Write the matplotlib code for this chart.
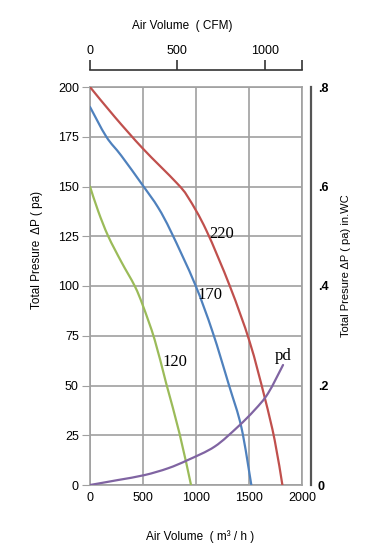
import matplotlib
matplotlib.use('Agg')
import numpy as np
import matplotlib.pyplot as plt
from matplotlib.path import Path
from matplotlib.patches import PathPatch

plt.rcParams['font.family'] = ['Liberation Sans', 'DejaVu Sans']

# Fan curves (air volume m3/h, pressure Pa)
x220 = [0, 233, 500, 814, 925, 1097, 1321, 1506, 1648, 1742, 1815]
y220 = [200, 185, 169, 152, 144.6, 128, 99.7, 72, 44, 22.6, 0]
x170 = [0, 154, 295, 500, 642, 767, 990, 1156, 1312, 1428, 1522]
y170 = [190, 175, 165.5, 150.4, 139.5, 127, 101, 77, 50, 29, 0]
x120 = [0, 78, 172, 297, 422, 500, 610, 719, 844, 953]
y120 = [150, 137.5, 125, 112, 100, 90, 73, 51, 26, 0]
xpd = [0, 264, 516, 736, 925, 1176, 1396, 1553, 1679, 1821]
ypd = [0, 2.5, 5, 8.4, 12.6, 19.3, 29.3, 37.7, 46, 60.3]

curve_labels = ['220', '170', '120', 'pd']
label_pos = [(1245, 126), (1132, 95.5), (802, 62), (1821, 65)]

y_ticks = [0, 25, 50, 75, 100, 125, 150, 175, 200]
x_ticks = [0, 500, 1000, 1500, 2000]
cfm_ticks = [0, 500, 1000]
inwc_ticks = [0, 0.2, 0.4, 0.6, 0.8]
inwc_labels = ['0', '.2', '.4', '.6', '.8']

M3H_PER_CFM = 1.65
PA_PER_INWC = 250.0


def smooth_path(xs, ys):
    # Catmull-Rom through the read points, drawn as cubic Bezier segments
    p = np.column_stack([xs, ys]).astype(float)
    n = len(p)
    verts = [p[0]]
    codes = [Path.MOVETO]
    for i in range(n - 1):
        p0 = p[i - 1] if i > 0 else p[i]
        p3 = p[i + 2] if i + 2 < n else p[i + 1]
        verts += [p[i] + (p[i + 1] - p0) / 6, p[i + 1] - (p3 - p[i]) / 6, p[i + 1]]
        codes += [Path.CURVE4] * 3
    return Path(verts, codes)


fig = plt.figure(figsize=(3.85, 5.56), dpi=100)
ax = fig.add_axes([90 / 385, 71 / 556, 212 / 385, 398 / 556])

colors = ['#c0504d', '#4f81bd', '#9bbb59', '#8064a2']
series = [(x220, y220), (x170, y170), (x120, y120), (xpd, ypd)]
for (xs, ys), c in zip(series, colors):
    ax.add_patch(PathPatch(smooth_path(xs, ys), fill=False, edgecolor=c,
                           lw=1.6, capstyle='round', zorder=3))

for lab, (tx, ty) in zip(curve_labels, label_pos):
    ax.text(tx, ty, lab, fontsize=12, family='Liberation Serif',
            ha='center', va='center', zorder=4)

ax.set_xlim(0, 2000)
ax.set_ylim(0, 200)
ax.set_xticks(x_ticks)
ax.set_yticks(y_ticks)
ax.grid(True, color='#a0a0a0', lw=1.2)
ax.set_axisbelow(True)
for s in ax.spines.values():
    s.set_color('#a0a0a0')
    s.set_linewidth(1.2)
ax.tick_params(axis='x', length=0, pad=5, labelsize=9)
ax.tick_params(axis='y', length=6, pad=2, labelsize=9, color='#a0a0a0')

ax.set_xlabel('Air Volume  ( m\u00b3 / h )', fontsize=8.5)
ax.xaxis.set_label_coords(0.52, -0.113)
ax.set_ylabel('Total Presure  \u0394P ( pa)', fontsize=8.5)
ax.yaxis.set_label_coords(-0.222, 0.59)

# top CFM axis
top = ax.secondary_xaxis(1.043, functions=(lambda v: v / M3H_PER_CFM,
                                           lambda v: v * M3H_PER_CFM))
top.set_xticks(cfm_ticks + [2000 / M3H_PER_CFM], labels=['0', '500', '1000', ''])
top.spines['top'].set_color('#333333')
top.spines['top'].set_linewidth(1.2)
top.tick_params(axis='x', length=7, width=1.2, color='#333333', pad=2, labelsize=9)
fig.text(182 / 385, 1 - 26 / 556, 'Air Volume  ( CFM)', fontsize=8.5,
         ha='center', va='center')

# right in.WC axis
right = ax.secondary_yaxis(1.042, functions=(lambda v: v / PA_PER_INWC,
                                             lambda v: v * PA_PER_INWC))
right.set_yticks(inwc_ticks, labels=inwc_labels)
right.spines['right'].set_color('#555555')
right.spines['right'].set_linewidth(1.6)
right.tick_params(axis='y', length=0, pad=5, labelsize=9)
for t in right.get_yticklabels():
    t.set_fontweight('bold')
fig.text(346 / 385, 1 - 266 / 556, 'Total Presure \u0394P ( pa) in.WC', fontsize=8,
         rotation=90, ha='center', va='center')

plt.savefig('out.png', dpi=100)
